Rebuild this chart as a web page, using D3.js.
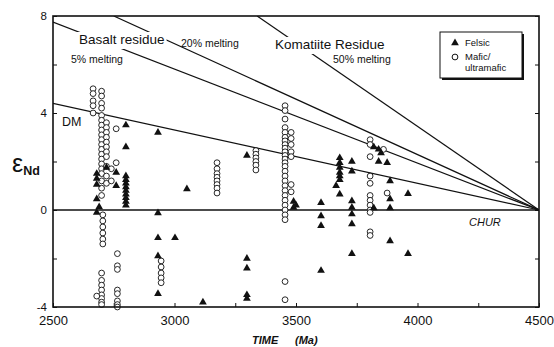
<!DOCTYPE html>
<html>
<head>
<meta charset="utf-8">
<script src="https://cdn.jsdelivr.net/npm/d3@7/dist/d3.min.js"></script>
<style>
  body { margin: 0; background: #fff; }
  svg text { font-family: "Liberation Sans", Arial, Helvetica, sans-serif; fill: #111; }
</style>
</head>
<body>
<svg id="chart" width="554" height="347"></svg>
<script>
// eNd against age for Archean rocks, with depleted mantle and residue curves
// values read off the printed figure, so they're approximate

const xTicks  = d3.range(2500, 4501, 250);
const xLabels = [2500, 3000, 3500, 4000, 4500];
const yTicks  = [-4, -2, 0, 2, 4, 6, 8];
const yLabels = [-4, 0, 4, 8];

// model lines, [age Ma, eNd] at both ends (all converge on CHUR at 4500)
const chur        = [[2500, 0], [4500, 0]];
const dmLine      = [[2500, 4.4], [4500, 0]];
const basalt5     = [[2500, 7.75], [4500, 0]];
const basalt20    = [[2750, 8], [4500, 0]];
const komatiite50 = [[3340, 8], [4500, 0]];

// felsic samples : [age, [eNd values stacked at that age]]
const felsicCols = [
  [2680, [1.5, 1.3, 1.05, 0.45, -0.1]],
  [2690, [0.12]],
  [2720, [1.75]],
  [2760, [1.55, 1.0]],
  [2800, [3.5, 2.6, 1.4, 1.25, 1.1, 0.95, 0.8, 0.65, 0.5, 0.35, 0.2]],
  [2932, [3.2, -0.12, -1.15, -1.9, -3.45]],
  [3002, [-1.15]],
  [3051, [0.87]],
  [3117, [-3.8]],
  [3298, [2.25, -2.0, -2.4, -3.5, -3.65]],
  [3490, [0.35, 0.1]],
  [3500, [0.2]],
  [3603, [0.3, -0.25, -0.65, -2.5]],
  [3665, [1.0]],
  [3680, [2.15, 1.95, 1.75, 1.55, 1.4, 1.25, 0.65]],
  [3730, [2.0, 1.6, 0.37, 0.1, -0.17, -0.58, -1.8]],
  [3820, [2.6, 0.08]],
  [3840, [2.5, 2.0]],
  [3850, [2.35]],
  [3875, [1.95]],
  [3887, [1.2, 0.45, 0.08, -1.28]],
  [3961, [0.67, -1.8]]
];

// mafic / ultramafic samples
const maficCols = [
  [2665, [5.0, 4.8, 4.5, 4.3, 4.0]],
  [2700, [4.9, 4.7, 4.4, 4.2, 3.9, 3.7, 3.5, 3.3, 3.1, 2.9, 2.7, 2.5, 2.3, 2.1, 1.9, 1.7, 1.5, 1.2, 0.9, 0.6]],
  [2720, [3.6, 3.4, 3.2, 3.0, 2.8, 2.6, 2.4, 2.2, 1.8, 1.4, 1.1]],
  [2740, [1.7, 1.2]],
  [2760, [3.35, 1.95]],
  [2705, [-0.2, -0.45, -0.7, -0.95, -1.2, -1.4]],
  [2700, [-2.6, -2.9, -3.1, -3.3, -3.5, -3.65, -3.8, -3.9]],
  [2680, [-3.55]],
  [2765, [-1.8, -2.3, -2.45, -3.3, -3.45, -3.75, -3.9, -4.0]],
  [2945, [-2.1, -2.35, -2.6, -2.8, -3.0]],
  [3175, [1.95, 1.7, 1.5, 1.35, 1.2, 1.05, 0.9, 0.7]],
  [3335, [2.45, 2.3, 2.15, 2.0, 1.85, 1.65]],
  [3455, [4.3, 4.1, 3.75, 3.4, 3.2, 3.0, 2.85, 2.7, 2.55, 2.4, 2.25, 2.1, 1.95, 1.8, 1.6, 1.4, 1.2, 1.0, 0.8, 0.6, 0.4, 0.2, 0.0, -0.2, -0.4, -2.95, -3.7]],
  [3480, [3.2, 2.95, 2.7, 2.4, 2.2, 1.05, 0.75]],
  [3805, [2.9, 2.7, 2.2, 1.4, 1.1, 0.6, 0.4, 0.2, 0.0, -0.1, -0.9, -1.05]],
  [3860, [2.5]],
  [3875, [0.7]]
];

//-------------------------------------------------------------------------------

const Flatten = cols => cols.flatMap(([age, vals]) => vals.map(v => ({ age, e: v })));

const felsic = Flatten(felsicCols);
const mafic  = Flatten(maficCols);

const plot = { left: 53, right: 539, top: 16, bottom: 307 };

const x = d3.scaleLinear().domain([2500, 4500]).range([plot.left, plot.right]);
const y = d3.scaleLinear().domain([-4, 8]).range([plot.bottom, plot.top]);

const svg = d3.select('#chart');

svg.append('clipPath').attr('id', 'plotclip')
  .append('rect')
    .attr('x', plot.left).attr('y', plot.top)
    .attr('width', plot.right - plot.left).attr('height', plot.bottom - plot.top);

//-------------------------------------------------------------------------------
// axes: ticks point inward, only every other tick gets a label

const gx = svg.append('g')
    .attr('transform', `translate(0,${plot.bottom})`)
    .call(d3.axisBottom(x).tickValues(xTicks)
        .tickSizeInner(-4).tickSizeOuter(0).tickPadding(9)
        .tickFormat(d => xLabels.includes(d) ? d : ''));

const gy = svg.append('g')
    .attr('transform', `translate(${plot.left},0)`)
    .call(d3.axisLeft(y).tickValues(yTicks)
        .tickSizeInner(-4).tickSizeOuter(0).tickPadding(6)
        .tickFormat(d => yLabels.includes(d) ? d : ''));

const gr = svg.append('g')
    .attr('transform', `translate(${plot.right},0)`)
    .call(d3.axisRight(y).tickValues(yTicks)
        .tickSizeInner(-4).tickSizeOuter(0).tickFormat(''));

[gx, gy, gr].forEach(g => {
    g.select('.domain').remove();
    g.selectAll('line').attr('stroke', '#111').attr('stroke-width', 1);
    g.selectAll('text').attr('fill', '#111');
});
gx.selectAll('text').style('font-size', '13px');
gy.selectAll('text').style('font-size', '11.5px');

//-------------------------------------------------------------------------------
// model lines

const line = d3.line().x(d => x(d[0])).y(d => y(d[1]));

const gLines = svg.append('g').attr('clip-path', 'url(#plotclip)');

[chur, dmLine, basalt5, basalt20, komatiite50].forEach(pts => {
    gLines.append('path')
        .attr('d', line(pts))
        .attr('fill', 'none')
        .attr('stroke', '#111')
        .attr('stroke-width', pts === chur ? 1.5 : 1.2);
});

// curve labels; the two big ones sit on a white patch that breaks the lines
const labels = [
    { text: 'Basalt residue',    x: 79,  y: 44,  size: 13.5, mask: true },
    { text: '20% melting',       x: 181, y: 47,  size: 10.5 },
    { text: '5% melting',        x: 71,  y: 63,  size: 10.5 },
    { text: 'Komatiite Residue', x: 275, y: 49,  size: 13.5, mask: true },
    { text: '50% melting',       x: 333, y: 63,  size: 10.5 },
    { text: 'DM',                x: 62,  y: 126, size: 12.5 },
    { text: 'CHUR',              x: 469, y: 226, size: 11, italic: true }
];

const gLabels = svg.append('g');

labels.forEach(l => {
    const t = gLabels.append('text')
        .attr('x', l.x).attr('y', l.y)
        .style('font-size', l.size + 'px')
        .style('font-style', l.italic ? 'italic' : null)
        .text(l.text);
    if (l.mask) {
        const bb = t.node().getBBox();
        gLabels.insert('rect', () => t.node())
            .attr('x', bb.x - 2).attr('y', bb.y)
            .attr('width', bb.width + 4).attr('height', bb.height + 2)
            .attr('fill', '#fff');
    }
});

//-------------------------------------------------------------------------------
// samples

const tri = d3.symbol(d3.symbolTriangle, 26);

svg.append('g').selectAll('circle')
  .data(mafic)
  .join('circle')
    .attr('cx', d => x(d.age))
    .attr('cy', d => y(d.e))
    .attr('r', 2.9)
    .attr('fill', '#fff')
    .attr('stroke', '#111')
    .attr('stroke-width', 0.9);

svg.append('g').selectAll('path')
  .data(felsic)
  .join('path')
    .attr('d', tri)
    .attr('transform', d => `translate(${x(d.age)},${y(d.e)})`)
    .attr('fill', '#111');

//-------------------------------------------------------------------------------
// frame

svg.append('rect')
    .attr('x', plot.left).attr('y', plot.top)
    .attr('width', plot.right - plot.left).attr('height', plot.bottom - plot.top)
    .attr('fill', 'none').attr('stroke', '#111').attr('stroke-width', 1.6);

//-------------------------------------------------------------------------------
// legend, with a drop shadow on right / bottom

const lg = svg.append('g').attr('transform', 'translate(440,32)');
lg.append('rect').attr('x', 2).attr('y', 2).attr('width', 82).attr('height', 46).attr('fill', '#111');
lg.append('rect').attr('width', 82).attr('height', 46).attr('fill', '#fff').attr('stroke', '#111').attr('stroke-width', 1);
lg.append('path').attr('d', tri).attr('transform', 'translate(15,11)').attr('fill', '#111');
lg.append('circle').attr('cx', 15).attr('cy', 25).attr('r', 2.9).attr('fill', '#fff').attr('stroke', '#111');
lg.append('text').attr('x', 25).attr('y', 14).style('font-size', '9.5px').text('Felsic');
lg.append('text').attr('x', 25).attr('y', 28).style('font-size', '9.5px').text('Mafic/');
lg.append('text').attr('x', 25).attr('y', 39).style('font-size', '9.5px').text('ultramafic');

//-------------------------------------------------------------------------------
// axis titles

const yt = svg.append('text').attr('x', 12).attr('y', 172);
yt.append('tspan').style('font-size', '25px').text('ε');
yt.append('tspan').attr('dy', 3).style('font-size', '12.5px').style('font-weight', 'bold').text('Nd');

const xt = svg.append('text').attr('x', 252).attr('y', 344)
    .style('font-size', '11px').style('font-weight', 'bold').style('font-style', 'italic');
xt.append('tspan').text('TIME');
xt.append('tspan').attr('x', 295).text('(Ma)');
</script>
</body>
</html>
